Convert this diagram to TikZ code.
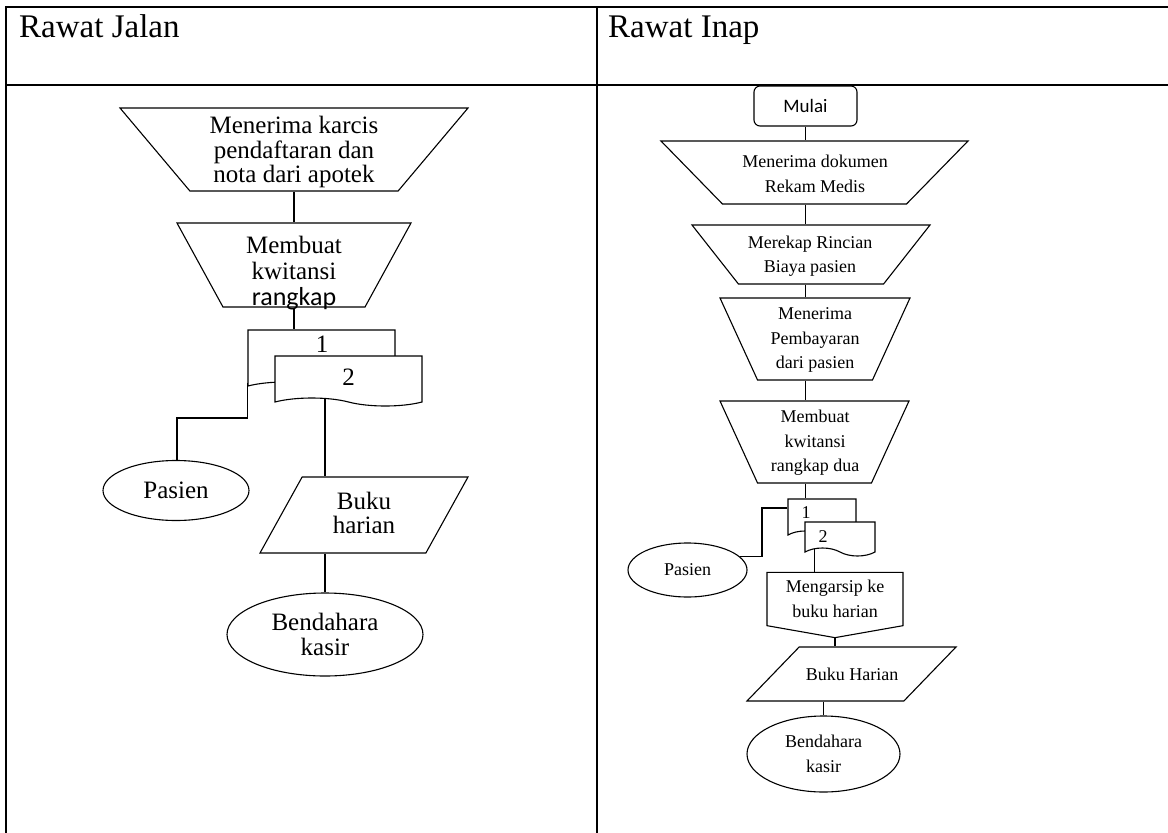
\documentclass[tikz,border=0pt]{standalone}
\usepackage{fontspec}
\setmainfont{Liberation Serif}
\newfontfamily\carlito{Carlito}
\usetikzlibrary{shapes.geometric}
\usetikzlibrary{shapes.symbols}
\tikzset{
   tabel/.style={line width=2pt, line cap=rect},
   garis/.style={line width=1.1pt},
   besar/.style={font=\fontsize{25pt}{24.5pt}\selectfont, align=center, inner sep=0pt},
   kecil/.style={font=\fontsize{18pt}{24.5pt}\selectfont, align=center, inner sep=0pt},
   manual/.style 2 args={draw, garis, trapezium, trapezium stretches body,
      trapezium left angle=#1, trapezium right angle=#1,
      text height=#2, text depth=0pt, inner sep=0pt, fill=white},
   masukan/.style={draw, garis, trapezium, trapezium stretches body,
      text depth=0pt, inner sep=0pt, fill=white},
   dokumen/.style={draw, garis, tape, tape bend top=none,
      tape bend bottom=out and in, tape bend height=8pt,
      inner sep=0pt, fill=white},
   terminal/.style={draw, garis, ellipse, inner sep=0pt, align=center},
   offpage/.style={draw, garis, signal, signal to=south,
      signal pointer angle=160, inner sep=0pt, align=center},
   mulaibox/.style={draw, garis, rounded corners=6pt, inner sep=0pt},
}
\begin{document}
\begin{tikzpicture}[x=1pt, y=-1pt]
\useasboundingbox (0,0) rectangle (1168,833);
% tabel
\draw[tabel] (6,833) -- (6,7) -- (1168,7);
\draw[tabel] (6,85) -- (1168,85);
\draw[tabel] (597,7) -- (597,833);
\node[anchor=base west, inner sep=0pt, font=\fontsize{33pt}{33pt}\selectfont] (judulA) at (19,37) {Rawat Jalan};
\node[anchor=base west, inner sep=0pt, font=\fontsize{33pt}{33pt}\selectfont] (judulB) at (608,37) {Rawat Inap};

% rawat jalan
\node[manual={130.1}{83pt}, minimum width=348pt] (terimaA) at (294,149.5) {};
\node[besar] (terimaAteks) at (294,152) {Menerima karcis\\pendaftaran dan\\nota dari apotek};
\node[manual={118.7}{84pt}, minimum width=234pt] (kwitA) at (294,265) {};
\node[besar, font=\fontsize{25pt}{26pt}\selectfont] (kwitAteks) at (294,273) {Membuat\\kwitansi\\{\carlito\fontsize{26pt}{26pt}\selectfont rangkap}};
\node[dokumen, minimum width=147pt, minimum height=60pt] (docA) at (321.5,356) {};
\node[anchor=base, besar] (satuA) at (322,352) {1};
\node[dokumen, besar, minimum width=147pt, minimum height=50pt] (docB) at (348.5,377) {2};
\node[terminal, besar, minimum width=146pt, minimum height=60pt] (pasienA) at (176,490.5) {Pasien};
\node[masukan, trapezium left angle=61, trapezium right angle=119, text height=76pt, minimum width=208pt] (bukuA) at (364,515) {};
\node[besar] (bukuAteks) at (364,513) {Buku\\harian};
\node[terminal, besar, minimum width=196pt, minimum height=83pt] (kasirA) at (325,634.5) {Bendahara\\kasir};
\coordinate (knikA) at (177,418);

\draw[garis] (terimaA.south) -- (kwitA.north);
\draw[garis] (kwitA.south) -- (kwitA.south |- docA.north);
\draw[garis] (docA.south west) |- (knikA) -- (knikA |- pasienA.north);
\draw[garis] (kasirA.north |- docB.south) -- (kasirA.north |- bukuA.north);
\draw[garis] (kasirA.north |- bukuA.south) -- (kasirA.north);

% rawat inap
\node[mulaibox, minimum width=103pt, minimum height=40pt, font=\carlito\fontsize{19pt}{19pt}\selectfont] (mulai) at (805.5,106) {Mulai};
\node[manual={134.3}{63pt}, minimum width=307pt] (terimaB) at (814.5,172.5) {};
\node[kecil] (terimaBteks) at (815,174) {Menerima dokumen\\Rekam Medis};
\node[manual={128.2}{59pt}, minimum width=238pt] (rekapB) at (811,254.5) {};
\node[kecil] (rekapBteks) at (810,256) {Merekap Rincian\\Biaya pasien};
\node[manual={114.6}{82pt}, minimum width=190pt] (bayarB) at (815,339) {};
\node[kecil] (bayarBteks) at (815,340) {Menerima\\Pembayaran\\dari pasien};
\node[manual={114.6}{82pt}, minimum width=189pt] (kwitB) at (814.5,442) {};
\node[kecil] (kwitBteks) at (815,443) {Membuat\\kwitansi\\rangkap dua};
\node[dokumen, minimum width=68pt, minimum height=40pt] (docC) at (822,515) {};
\node[anchor=base, kecil] (satuB) at (806,518) {1};
\node[dokumen, minimum width=70pt, minimum height=34pt] (docD) at (840,535) {};
\node[kecil] (duaB) at (823,537) {2};
\node[terminal, kecil, minimum width=119pt, minimum height=54pt] (pasienB) at (687.5,570) {Pasien};
\node[offpage, kecil, minimum width=136pt, minimum height=62pt] (arsipB) at (835,599) {Mengarsip ke\\buku harian};
\node[masukan, trapezium left angle=46, trapezium right angle=134, text height=54pt, minimum width=209pt] (bukuB) at (851.5,674) {};
\node[kecil] (bukuBteks) at (852,674) {Buku Harian};
\node[terminal, kecil, minimum width=153pt, minimum height=76pt] (kasirB) at (823.5,754) {Bendahara\\kasir};
\coordinate (knikB) at (762,508);

\draw[garis] (mulai.south) -- (mulai.south |- terimaB.north);
\draw[garis] (mulai.south |- terimaB.south) -- (mulai.south |- rekapB.north);
\draw[garis] (mulai.south |- rekapB.south) -- (mulai.south |- bayarB.north);
\draw[garis] (mulai.south |- bayarB.south) -- (mulai.south |- kwitB.north);
\draw[garis] (mulai.south |- kwitB.south) -- (mulai.south |- docC.north);
\draw[garis] (knikB -| docC.west) -- (knikB) |- (pasienB.14);
\draw[garis] (kwitB.south |- docD.south) -- (kwitB.south |- arsipB.north);
\draw[garis] (arsipB.south) -- (arsipB.south |- bukuB.north);
\draw[garis] (kasirB.north |- bukuB.south) -- (kasirB.north);
\end{tikzpicture}
\end{document}
